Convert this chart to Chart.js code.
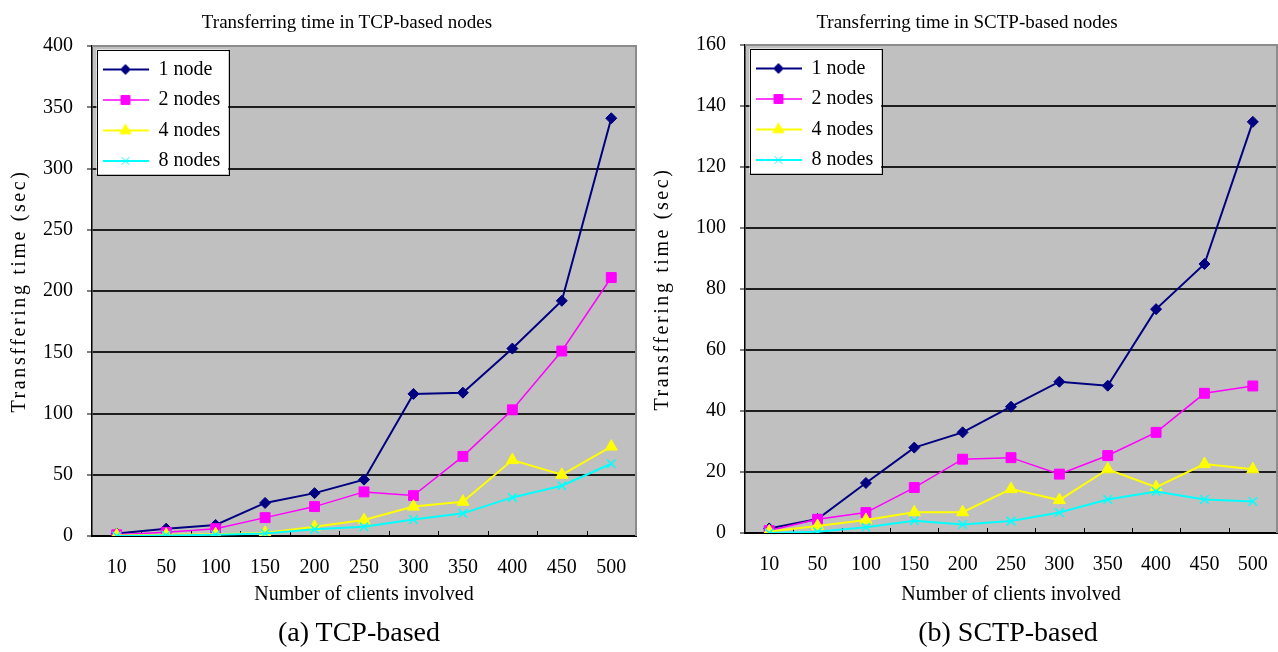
<!DOCTYPE html>
<html>
<head>
<meta charset="utf-8">
<title>Transferring time</title>
<script src="https://cdn.jsdelivr.net/npm/chart.js@4.4.0/dist/chart.umd.min.js"></script>
<style>
  html, body { margin: 0; padding: 0; background: #fff; }
  body {
    position: relative;
    width: 1278px;
    height: 652px;
    overflow: hidden;
    font-family: "Liberation Serif", "Times New Roman", serif;
    color: #000;
  }
  canvas { position: absolute; top: 0; }
  .titulo {
    position: absolute;
    top: 12px;
    font-size: 19px;
    line-height: 20px;
    white-space: nowrap;
    transform: translateX(-50%);
  }
  .pie {
    position: absolute;
    top: 616px;
    font-size: 28px;
    line-height: 32px;
    white-space: nowrap;
    transform: translateX(-50%);
  }
</style>
</head>
<body>
<canvas id="graficoTCP" width="640" height="652" style="left:0;width:640px;height:652px"></canvas>
<canvas id="graficoSCTP" width="638" height="652" style="left:640px;width:638px;height:652px"></canvas>
<div class="titulo" style="left:347px">Transferring time in TCP-based nodes</div>
<div class="titulo" style="left:967px">Transferring time in SCTP-based nodes</div>
<div class="pie" style="left:359px">(a) TCP-based</div>
<div class="pie" style="left:1008px">(b) SCTP-based</div>

<script>
// Cantidad de clientes (eje x)
const clientes = ["10", "50", "100", "150", "200", "250", "300", "350", "400", "450", "500"];

// Tiempos con TCP (seg)
const tcp1 = [2, 6, 9, 27, 35, 46, 116, 117, 153, 192, 341];
const tcp2 = [1, 3, 6, 15, 24, 36, 33, 65, 103, 151, 211];
const tcp4 = [0.5, 1, 1.5, 2.5, 7.5, 13, 24, 28, 62, 50, 73];
const tcp8 = [0, 0.5, 1, 2, 5.5, 7.5, 13.5, 18.5, 31.5, 41, 59];

// Tiempos con SCTP (seg)
const sctp1 = [1.5, 4.6, 16.4, 28, 33, 41.4, 49.6, 48.3, 73.4, 88.2, 134.8];
const sctp2 = [0.8, 4.5, 6.7, 14.9, 24.2, 24.7, 19.3, 25.4, 33, 45.8, 48.2];
const sctp4 = [0.5, 2.3, 4.3, 6.8, 6.8, 14.4, 10.8, 20.9, 15, 22.6, 20.9];
const sctp8 = [0, 0.4, 1.9, 4, 2.8, 3.9, 6.7, 11, 13.6, 11, 10.3];

const nombres = ["1 node", "2 nodes", "4 nodes", "8 nodes"];
const colores = ["#000080", "#ff00ff", "#ffff00", "#00ffff"];
const marcadores = ["rectRot", "rect", "triangle", "crossRot"];
const radios = [5.5, 7, 7, 6];
const anchos = [2, 1.5, 2, 2];
const bordesMarcador = [1, 1, 1, 1.5];

const fuenteEjes = { family: "'Liberation Serif', 'Times New Roman', serif", size: 20 };

// Icono de la leyenda: linea con el marcador al medio
function iconoLeyenda(i) {
  const c = document.createElement("canvas");
  c.width = 46;
  c.height = 16;
  const ctx = c.getContext("2d");
  ctx.strokeStyle = colores[i];
  ctx.fillStyle = colores[i];
  ctx.lineWidth = anchos[i];
  ctx.beginPath();
  ctx.moveTo(0, 8);
  ctx.lineTo(46, 8);
  ctx.stroke();
  ctx.lineWidth = 1;
  Chart.helpers.drawPoint(ctx, { pointStyle: marcadores[i], radius: radios[i] * 0.9, rotation: 0, borderWidth: 1 }, 23, 8);
  return c;
}

function armarDatasets(series) {
  return series.map((valores, i) => ({
    label: nombres[i],
    data: valores,
    borderColor: colores[i],
    backgroundColor: colores[i],
    borderWidth: anchos[i],
    pointStyle: marcadores[i],
    pointRadius: radios[i],
    pointHoverRadius: radios[i],
    pointBorderWidth: bordesMarcador[i],
    tension: 0,
    order: series.length - i, // la primera serie queda debajo
  }));
}

// Fondo gris, caja blanca de la leyenda y marcas del eje x
const estiloExcel = {
  id: "estiloExcel",
  beforeDraw(chart) {
    const { ctx, chartArea: a } = chart;
    ctx.save();
    ctx.fillStyle = "#c0c0c0";
    ctx.fillRect(a.left, a.top, a.width, a.height);
    ctx.restore();
  },
  afterLayout(chart) {
    const leyenda = chart.legend;
    const a = chart.chartArea;
    if (!leyenda) return;
    // la leyenda va dentro del area del grafico
    leyenda.top = a.top + 3;
    leyenda.bottom = a.bottom;
    leyenda.adjustHitBoxes();

    if (!leyenda._conCaja) {
      const dibujar = leyenda.draw.bind(leyenda);
      leyenda.draw = function () {
        const cajas = leyenda.legendHitBoxes;
        const p = leyenda.options.labels.padding;
        if (cajas.length) {
          const izq = leyenda.left + p - 6;
          const arr = Math.min(...cajas.map((b) => b.top)) - 10;
          const der = leyenda.left + p + Math.max(...cajas.map((b) => b.width)) + 8;
          const abj = Math.max(...cajas.map((b) => b.top + b.height)) + 3;
          const ctx = chart.ctx;
          ctx.save();
          ctx.fillStyle = "#fff";
          ctx.fillRect(izq, arr, der - izq, abj - arr);
          ctx.strokeStyle = "#000";
          ctx.lineWidth = 1;
          ctx.strokeRect(Math.round(izq) + 0.5, Math.round(arr) + 0.5, Math.round(der - izq), Math.round(abj - arr));
          ctx.restore();
        }
        dibujar();
      };
      leyenda._conCaja = true;
    }

    // titulo del eje y con letras mas separadas
    const ejeY = chart.scales.y;
    if (!ejeY._espaciado) {
      const tituloOriginal = ejeY.drawTitle.bind(ejeY);
      ejeY.drawTitle = function () {
        chart.ctx.save();
        chart.ctx.letterSpacing = "2.6px";
        tituloOriginal();
        chart.ctx.restore();
      };
      ejeY._espaciado = true;
    }
  },
  beforeDatasetsDraw(chart) {
    const { ctx, chartArea: a } = chart;
    const x = chart.scales.x;
    ctx.save();
    // borde gris arriba y a la derecha
    ctx.strokeStyle = "#8c8c8c";
    ctx.lineWidth = 2;
    ctx.beginPath();
    ctx.moveTo(a.left, a.top);
    ctx.lineTo(a.right, a.top);
    ctx.lineTo(a.right, a.bottom);
    ctx.stroke();
    // marcas cortas entre categorias
    ctx.strokeStyle = "#000";
    ctx.lineWidth = 1;
    ctx.beginPath();
    for (let i = 0; i < clientes.length - 1; i++) {
      const px = Math.round((x.getPixelForValue(i) + x.getPixelForValue(i + 1)) / 2) + 0.5;
      ctx.moveTo(px, a.bottom);
      ctx.lineTo(px, a.bottom - 5);
    }
    ctx.stroke();
    ctx.restore();
  },
};

function configurar(series, maximo, paso, medidas) {
  return {
    type: "line",
    data: { labels: clientes, datasets: armarDatasets(series) },
    options: {
      responsive: false,
      animation: false,
      events: [],
      layout: {
        autoPadding: false,
        padding: { top: medidas.arriba, right: medidas.derecha, bottom: 40, left: 0 },
      },
      plugins: {
        title: { display: false },
        tooltip: { enabled: false },
        legend: {
          position: "chartArea",
          align: "start",
          labels: {
            usePointStyle: true,
            pointStyleWidth: 46,
            padding: 10.5,
            color: "#000",
            font: fuenteEjes,
            sort: (a, b) => a.datasetIndex - b.datasetIndex,
            generateLabels(chart) {
              const items = Chart.defaults.plugins.legend.labels.generateLabels(chart);
              items.forEach((it) => {
                it.pointStyle = iconoLeyenda(it.datasetIndex);
              });
              return items;
            },
          },
        },
      },
      scales: {
        x: {
          offset: true,
          grid: { display: false, drawTicks: false },
          border: { color: "#000", width: 2 },
          ticks: { color: "#000", padding: 20, font: fuenteEjes, maxRotation: 0, autoSkip: false },
          title: {
            display: true,
            text: "Number of clients involved",
            color: "#000",
            font: fuenteEjes,
            padding: { top: 0, bottom: 5 },
          },
          afterFit(scale) {
            scale.height = medidas.altoX;
            scale.paddingLeft = 0;
            scale.paddingRight = 0;
          },
        },
        y: {
          min: 0,
          max: maximo,
          ticks: { stepSize: paso, color: "#000", padding: 14, font: fuenteEjes },
          grid: {
            color: (c) => (c.tick && c.tick.value === maximo ? "#8c8c8c" : "#1e1e1e"),
            lineWidth: 2,
            tickColor: "#000",
            tickLength: 5,
            tickWidth: 1,
          },
          border: { color: "#000", width: 1.5 },
          title: {
            display: true,
            text: "Transffering time (sec)",
            color: "#000",
            font: fuenteEjes,
            padding: { top: medidas.tituloY, bottom: 0 },
          },
          afterFit(scale) {
            scale.width = medidas.anchoY;
          },
        },
      },
    },
    plugins: [estiloExcel],
  };
}

new Chart(
  document.getElementById("graficoTCP"),
  configurar([tcp1, tcp2, tcp4, tcp8], 400, 50, { arriba: 46, derecha: 4, altoX: 76, anchoY: 92, tituloY: 8 })
);

new Chart(
  document.getElementById("graficoSCTP"),
  configurar([sctp1, sctp2, sctp4, sctp8], 160, 20, { arriba: 45, derecha: 1, altoX: 79, anchoY: 105, tituloY: 11 })
);
</script>
</body>
</html>
